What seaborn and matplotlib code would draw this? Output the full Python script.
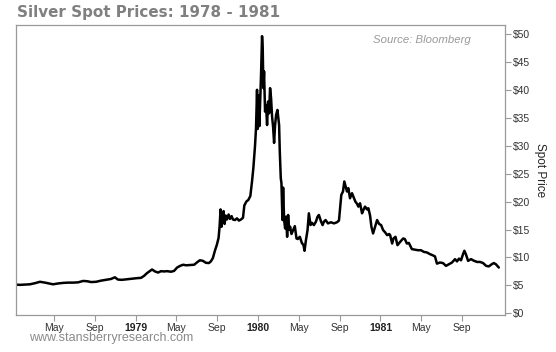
import pandas as pd
import seaborn as sns
import matplotlib.pyplot as plt

# silver spot price (USD/oz)
dates = [
    "1978-01-04", "1978-01-19", "1978-02-03", "1978-02-18", "1978-03-05", "1978-03-20",
    "1978-04-04", "1978-04-19", "1978-04-28", "1978-05-13", "1978-05-28", "1978-06-12",
    "1978-06-27", "1978-07-12", "1978-07-27", "1978-08-08", "1978-08-20", "1978-09-04",
    "1978-09-18", "1978-10-03", "1978-10-18", "1978-10-30", "1978-11-08", "1978-11-20",
    "1978-12-05", "1978-12-20",
    "1979-01-04", "1979-01-16", "1979-01-25", "1979-02-03", "1979-02-12", "1979-02-18",
    "1979-02-27", "1979-03-08", "1979-03-17", "1979-03-26", "1979-04-04", "1979-04-16",
    "1979-04-25", "1979-05-04", "1979-05-13", "1979-05-22", "1979-05-31", "1979-06-12",
    "1979-06-24", "1979-07-02", "1979-07-11", "1979-07-20", "1979-07-29", "1979-08-07",
    "1979-08-13", "1979-08-19", "1979-08-25", "1979-08-31", "1979-09-05", "1979-09-08",
    "1979-09-11", "1979-09-14", "1979-09-17", "1979-09-20", "1979-09-23", "1979-09-26",
    "1979-09-30", "1979-10-05", "1979-10-09", "1979-10-14", "1979-10-18", "1979-10-24",
    "1979-10-30", "1979-11-05", "1979-11-11", "1979-11-17", "1979-11-21", "1979-11-27",
    "1979-12-03", "1979-12-09", "1979-12-14", "1979-12-18", "1979-12-23", "1979-12-26",
    "1979-12-29", "1979-12-31",
    "1980-01-02", "1980-01-05", "1980-01-08", "1980-01-10", "1980-01-13", "1980-01-15",
    "1980-01-17", "1980-01-19", "1980-01-22", "1980-01-25", "1980-01-28", "1980-01-31",
    "1980-02-03", "1980-02-06", "1980-02-09", "1980-02-12", "1980-02-15", "1980-02-18",
    "1980-02-21", "1980-02-24", "1980-02-28", "1980-03-04", "1980-03-06", "1980-03-09",
    "1980-03-11", "1980-03-14", "1980-03-16", "1980-03-19", "1980-03-22", "1980-03-25",
    "1980-03-28", "1980-03-31", "1980-04-03", "1980-04-06", "1980-04-10", "1980-04-15",
    "1980-04-20", "1980-04-25", "1980-04-29", "1980-05-05", "1980-05-11", "1980-05-16",
    "1980-05-19", "1980-05-23", "1980-05-28", "1980-06-01", "1980-06-06", "1980-06-10",
    "1980-06-16", "1980-06-22", "1980-06-27", "1980-07-01", "1980-07-07", "1980-07-12",
    "1980-07-16", "1980-07-21", "1980-07-28", "1980-08-06", "1980-08-15", "1980-08-24",
    "1980-08-30", "1980-09-02", "1980-09-06", "1980-09-11", "1980-09-15", "1980-09-20",
    "1980-09-23", "1980-09-27", "1980-10-02", "1980-10-08", "1980-10-14", "1980-10-18",
    "1980-10-23", "1980-10-27", "1980-11-01", "1980-11-07", "1980-11-11", "1980-11-16",
    "1980-11-22", "1980-11-26", "1980-12-01", "1980-12-05", "1980-12-10", "1980-12-16",
    "1980-12-22", "1980-12-28",
    "1981-01-03", "1981-01-09", "1981-01-15", "1981-01-21", "1981-01-27", "1981-01-30",
    "1981-02-05", "1981-02-09", "1981-02-15", "1981-02-21", "1981-03-01", "1981-03-10",
    "1981-03-15", "1981-03-21", "1981-03-27", "1981-04-05", "1981-04-14", "1981-04-23",
    "1981-05-02", "1981-05-11", "1981-05-20", "1981-05-29", "1981-06-06", "1981-06-13",
    "1981-06-19", "1981-06-28", "1981-07-07", "1981-07-16", "1981-07-25", "1981-08-03",
    "1981-08-12", "1981-08-18", "1981-08-24", "1981-08-30", "1981-09-05", "1981-09-09",
    "1981-09-14", "1981-09-20", "1981-09-29", "1981-10-08", "1981-10-17", "1981-10-26",
    "1981-11-04", "1981-11-13", "1981-11-21", "1981-11-30", "1981-12-06", "1981-12-12",
    "1981-12-21",
]
prices = [
    5.15, 5.1, 5.15, 5.2, 5.4, 5.65,
    5.5, 5.3, 5.2, 5.35, 5.45, 5.5,
    5.5, 5.55, 5.8, 5.75, 5.6, 5.65,
    5.85, 6.0, 6.15, 6.45, 6.05, 6.0,
    6.1, 6.2,
    6.3, 6.35, 6.7, 7.2, 7.6, 7.85,
    7.5, 7.3, 7.55, 7.5, 7.55, 7.45,
    7.6, 8.2, 8.5, 8.7, 8.6, 8.65,
    8.7, 9.1, 9.5, 9.4, 9.05, 9.0,
    9.3, 9.9, 11.2, 12.3, 13.5, 15.5,
    18.6, 15.5, 17.5, 18.3, 16.0, 17.5,
    16.8, 17.7, 16.9, 17.4, 16.8, 16.7,
    17.0, 16.6, 16.8, 17.1, 19.3, 20.0,
    20.3, 21.0, 23.6, 26.0, 30.0, 33.2,
    40.0, 33.0,
    39.0, 33.5, 39.0, 42.7, 49.6, 47.5,
    40.3, 43.3, 36.1, 37.3, 33.7, 37.9,
    35.8, 40.3, 38.5, 35.2, 33.4, 30.5,
    33.7, 35.5, 36.4, 33.7, 29.0, 24.2,
    23.3, 16.7, 22.5, 16.7, 15.2, 17.3,
    13.7, 17.6, 15.0, 15.5, 14.2, 14.9,
    15.6, 13.4, 13.3, 13.7, 12.6, 12.2,
    11.2, 13.0, 14.9, 17.9, 15.8, 16.2,
    15.8, 16.4, 17.3, 17.6, 16.5, 15.8,
    16.4, 16.7, 16.1, 16.3, 16.1, 16.3,
    16.6, 18.5, 21.2, 21.8, 23.6, 22.5,
    21.8, 22.4, 20.6, 21.5, 20.6, 20.0,
    19.6, 19.1, 19.7, 17.9, 18.5, 19.1,
    18.6, 18.8, 17.5, 15.5, 14.3, 15.5,
    16.7, 16.0,
    15.8, 14.9, 14.5, 14.0, 14.2, 14.0,
    12.5, 13.4, 13.7, 12.2, 12.8, 13.4,
    13.3, 12.5, 12.6, 11.5, 11.4, 11.3,
    11.3, 11.0, 10.9, 10.6, 10.4, 10.2,
    8.9, 9.1, 9.0, 8.5, 8.8, 9.1,
    9.7, 9.3, 9.8, 9.5, 10.6, 11.2,
    10.5, 9.4, 9.7, 9.4, 9.2, 9.2,
    9.0, 8.5, 8.4, 8.8, 9.0, 8.8,
    8.2,
]

tick_dates = ["1978-05-01", "1978-09-01", "1979-01-01", "1979-05-01", "1979-09-01",
              "1980-01-01", "1980-05-01", "1980-09-01", "1981-01-01", "1981-05-01",
              "1981-09-01"]
tick_labels = ["May", "Sep", "1979", "May", "Sep", "1980", "May", "Sep", "1981", "May", "Sep"]
price_ticks = [0, 5, 10, 15, 20, 25, 30, 35, 40, 45, 50]

sns.set_style("white")
plt.rcParams['font.family'] = ['Liberation Sans', 'DejaVu Sans']

df = pd.DataFrame({"date": pd.to_datetime(dates), "price": prices})

fig = plt.figure(figsize=(5.56, 3.52), dpi=100)
ax = fig.add_axes([0.028, 0.105, 0.88, 0.824])

sns.lineplot(data=df, x="date", y="price", color="black", linewidth=1.8, ax=ax)

ax.set_xlim(pd.Timestamp("1978-01-06"), pd.Timestamp("1982-01-08"))
ax.set_ylim(-0.3, 51.6)

ax.set_xticks(pd.to_datetime(tick_dates))
ax.set_xticklabels(tick_labels)
for lab in ax.get_xticklabels():
    if lab.get_text().isdigit():
        lab.set_fontweight("bold")
        lab.set_color("#222222")
    else:
        lab.set_color("#333333")

ax.yaxis.tick_right()
ax.yaxis.set_label_position("right")
ax.set_yticks(price_ticks)
ax.set_yticklabels(["$%d" % v for v in price_ticks], color="#333333")

ax.tick_params(axis="both", which="both", length=4, width=0.8, color="#999999",
               labelsize=7.5, pad=1.5, direction="out")
ax.tick_params(axis="x", bottom=True, top=False)
ax.tick_params(axis="y", right=True, left=False)

for sp in ax.spines.values():
    sp.set_color("#999999")
    sp.set_linewidth(0.9)

ax.set_xlabel("")
ax.set_ylabel("Spot Price", rotation=-90, labelpad=12, fontsize=8.5, color="#222222")

ax.text(0.93, 0.965, "Source: Bloomberg", transform=ax.transAxes, ha="right", va="top",
        fontsize=8.2, style="italic", color="#999999")

fig.text(0.031, 0.965, "Silver Spot Prices: 1978 - 1981", ha="left", va="center",
         fontsize=10.9, fontweight="bold", color="#808080", family="DejaVu Sans")
fig.text(0.052, 0.04, "www.stansberryresearch.com", ha="left", va="center",
         fontsize=9.0, color="#8a8a8a")

plt.savefig("out.png", dpi=100)
